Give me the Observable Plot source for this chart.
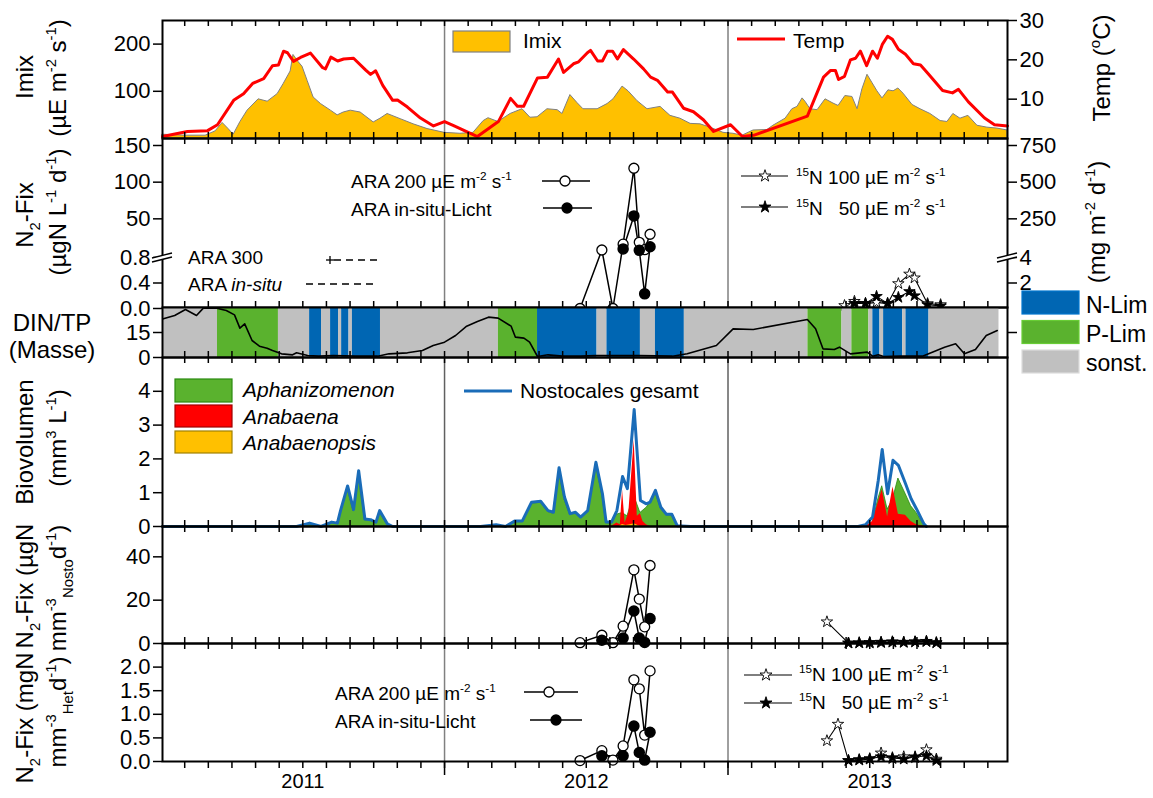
<!DOCTYPE html>
<html><head><meta charset="utf-8">
<script src="https://cdn.jsdelivr.net/npm/d3@7"></script>
<script src="https://cdn.jsdelivr.net/npm/@observablehq/plot@0.6"></script>
<style>
body{margin:0;background:#fff;}
#wrap{position:relative;width:1153px;height:798px;overflow:hidden;}
#wrap svg{position:absolute;left:0;top:0;}
</style></head><body><div id="wrap"></div>
<script>
// ---------------- DATA ----------------
const yearLabels = ["2011", "2012", "2013"];
const yearMid = [2011.5, 2012.5, 2013.5];
const yearDividers = [2012, 2013];

// Panel 1: Imix (µE m-2 s-1) and water temperature (°C)
const imixDates = [2011.005,2011.086,2011.157,2011.192,2011.217,2011.238,2011.256,2011.280,2011.305,2011.344,2011.376,2011.411,2011.432,2011.457,2011.467,2011.485,2011.499,2011.517,2011.538,2011.564,2011.599,2011.623,2011.644,2011.669,2011.704,2011.750,2011.774,2011.799,2011.845,2011.891,2011.940,2012.000,
2012.056,2012.102,2012.138,2012.155,2012.190,2012.233,2012.275,2012.303,2012.328,2012.363,2012.399,2012.416,2012.444,2012.469,2012.490,2012.540,2012.575,2012.596,2012.628,2012.649,2012.681,2012.716,2012.762,2012.797,2012.832,2012.868,2012.903,2012.938,2012.984,
2013.019,2013.051,2013.090,2013.139,2013.160,2013.203,2013.227,2013.245,2013.263,2013.273,2013.291,2013.316,2013.344,2013.372,2013.390,2013.414,2013.439,2013.457,2013.474,2013.492,2013.510,2013.527,2013.545,2013.566,2013.584,2013.601,2013.619,2013.651,2013.679,2013.714,2013.750,2013.774,2013.795,2013.820,2013.848,2013.880,2013.915,2013.950,2013.986];
const imixValues = [8,6,6,15,33,20,8,35,59,83,78,94,115,142,177,162,152,122,87,73,59,49,55,59,55,34,42,52,41,30,20,12,
10,12,37,43,35,52,62,44,45,62,60,52,92,75,62,62,73,83,110,100,79,62,67,48,42,31,30,23,12,
10,6,17,18,27,42,62,67,85,78,62,60,83,74,69,90,88,62,104,135,117,100,85,102,100,106,95,71,62,52,37,35,52,42,48,27,23,21,17];
const tempDates = [2011.005,2011.093,2011.164,2011.199,2011.256,2011.291,2011.323,2011.362,2011.393,2011.414,2011.432,2011.446,2011.467,2011.492,2011.527,2011.570,2011.580,2011.599,2011.623,2011.644,2011.679,2011.722,2011.739,2011.757,2011.782,2011.817,2011.834,2011.869,2011.915,2011.961,
2012.000,2012.032,2012.116,2012.190,2012.233,2012.257,2012.279,2012.328,2012.363,2012.402,2012.420,2012.455,2012.473,2012.504,2012.515,2012.540,2012.557,2012.575,2012.593,2012.610,2012.631,2012.667,2012.702,2012.727,2012.751,2012.787,2012.804,2012.843,2012.878,2012.914,2012.949,
2013.009,2013.051,2013.090,2013.280,2013.337,2013.362,2013.379,2013.390,2013.411,2013.432,2013.450,2013.467,2013.489,2013.510,2013.527,2013.545,2013.563,2013.580,2013.601,2013.626,2013.654,2013.679,2013.707,2013.757,2013.792,2013.813,2013.848,2013.905,2013.940,2013.986];
const tempValues = [0.5,1.8,2,3.5,9.7,11.4,14,15.2,18.5,18.7,22.2,21.8,19.6,20.6,21.7,18,17.7,20.7,19.7,20.2,20.4,17.4,16.3,17.2,13.5,9.7,9.8,8,5.2,3.2,
4.3,3.3,0.5,4.3,10.2,8.2,8.2,15.4,15.6,20.2,16.8,19,19.5,21.8,22.4,19.7,19.7,22.2,22.2,20.2,22.6,20.2,17.7,15.6,14.8,11.8,11.8,7.7,6.8,4.7,1.8,
3.5,0.5,0.8,5.7,15.6,17.3,17.3,15,15.8,20,20.4,22.2,18.5,22.2,20.4,24,26,25.2,22.7,21.4,19,18.7,16.4,12.2,11.6,12.5,9.3,5.2,3.5,3.2];
const imixTicks = [100, 200];
const tempTicks = [10, 20, 30];

// ARA sampling dates 2012
const araDates = [2012.478, 2012.555, 2012.594, 2012.630, 2012.668, 2012.687, 2012.706, 2012.725];
const araInsituDatesL = [2012.630, 2012.668, 2012.687, 2012.706, 2012.725];
const araInsituDates = [2012.555, 2012.630, 2012.668, 2012.687, 2012.706, 2012.725];
// Panel 2: N2-Fix (µgN L-1 d-1), 15N in mg m-2 d-1
const fixL_ara200 = [0, 7.5, 0, 15.5, 119, 18, 8, 29];
const fixL_araInsitu = [9, 54, 7, 0.23, 12];
const n15Dates100 = [2013.411, 2013.446, 2013.485, 2013.524, 2013.563, 2013.601, 2013.640, 2013.658, 2013.704, 2013.750];
const fixA_n15_100 = [0.23, 0.56, 0.38, 0.48, 0.38, 1.95, 2.7, 2.4, 0.38, 0.3];
const n15Dates50 = [2013.446, 2013.485, 2013.524, 2013.563, 2013.601, 2013.640, 2013.658, 2013.704, 2013.750];
const fixA_n15_50 = [0.4, 0.4, 0.95, 0.4, 0.87, 1.33, 1.0, 0.3, 0.2];
const fixLTicks = [0, 0.4, 0.8, 50, 100, 150];
const fixATicks = [0.4, 0.8, 50, 100, 150];   // right axis = left x 5 -> 2, 4, 250, 500, 750

// Panel 3: DIN/TP (mass) and limitation periods
const dinDates = [2011.008,2011.048,2011.086,2011.125,2011.149,2011.197,2011.230,2011.259,2011.278,2011.295,2011.321,2011.347,2011.374,2011.393,2011.425,2011.464,2011.478,2011.517,2011.556,2011.608,2011.686,2011.764,2011.804,2011.869,2011.922,2011.960,
2012.000,2012.039,2012.078,2012.116,2012.155,2012.189,2012.235,2012.250,2012.280,2012.300,2012.328,2012.365,2012.416,2012.480,2012.532,2012.687,2012.804,2012.856,2012.959,
2013.018,2013.089,2013.280,2013.309,2013.335,2013.375,2013.393,2013.432,2013.491,2013.510,2013.530,2013.549,2013.608,2013.686,2013.764,2013.803,2013.834,2013.873,2013.911,2013.950];
const dinValues = [23.2,25.2,28.8,25.2,29.6,29.6,28.2,25.6,17.6,20.2,10.2,6.8,5.6,4.2,2.2,1.6,2.8,1.2,0.8,1.2,0.8,0.8,2.2,2.8,4.2,7.2,
9.2,13.2,18.8,21.6,24.2,23.6,18.8,12.2,11.6,9.2,0.6,1.6,0.8,0.8,1.2,1.2,0.8,2.2,7.2,
17.2,16.8,22.8,17.2,5.2,4.8,6.2,2.2,3.2,0.8,1.6,0.6,0.8,0.8,6.2,8.2,2.2,4.8,13.2,16.2];
const limStart = [2011.008,2011.199,2011.414,2011.524,2011.566,2011.598,2011.626,2011.637,2011.663,2011.675,2011.774,2012.190,2012.328,2012.538,2012.573,2012.691,2012.744,2012.846,2013.282,2013.402,2013.437,2013.497,2013.511,2013.536,2013.549,2013.616,2013.628,2013.709];
const limEnd   = [2011.199,2011.414,2011.524,2011.566,2011.598,2011.626,2011.637,2011.663,2011.675,2011.774,2012.190,2012.328,2012.538,2012.573,2012.691,2012.744,2012.846,2013.282,2013.402,2013.437,2013.497,2013.511,2013.536,2013.549,2013.616,2013.628,2013.709,2013.956];
const limType  = ["sonst.","P-Lim","sonst.","N-Lim","sonst.","N-Lim","sonst.","N-Lim","sonst.","N-Lim","sonst.","P-Lim","N-Lim","sonst.","N-Lim","sonst.","N-Lim","sonst.","P-Lim","sonst.","P-Lim","sonst.","N-Lim","sonst.","N-Lim","sonst.","N-Lim","sonst."];
const limCategories = ["N-Lim", "P-Lim", "sonst."];
const dinTicks = [0, 15];

// Panel 4: Biovolumen (mm3 L-1)
const bioDates = [2011.005,2011.478,2011.524,2011.564,2011.602,2011.622,2011.633,2011.658,2011.679,2011.697,2011.719,2011.739,2011.758,2011.771,2011.798,2011.817,
2012.127,2012.182,2012.215,2012.247,2012.274,2012.287,2012.307,2012.339,2012.365,2012.384,2012.404,2012.423,2012.443,2012.462,2012.480,2012.505,2012.534,2012.557,2012.570,2012.589,2012.608,2012.628,2012.645,2012.669,2012.691,2012.712,2012.725,2012.744,2012.763,2012.783,2012.802,2012.821,2012.868,
2013.459,2013.485,2013.510,2013.530,2013.544,2013.563,2013.582,2013.601,2013.626,2013.646,2013.665,2013.691,2013.700];
const bioNostocales = [0,0,0.1,0,0.13,0.1,0.47,1.2,0.5,1.65,0.22,0.2,0.13,0.47,0.08,0,
0,0.05,0,0.16,0.16,0.38,0.72,0.75,0.47,0.42,1.74,0.87,0.38,0.42,0.28,0.47,1.9,0.97,0.13,0.13,0.47,1.48,1.12,3.46,0.77,0.67,0.72,1.07,0.57,0.36,0.36,0.02,0,
0,0.05,0.28,1.36,2.28,0.97,1.96,1.81,1.27,0.82,0.52,0.08,0];
const bioAphanizomenon = [0,0,0.05,0,0.1,0.08,0.42,1.12,0.45,1.58,0.18,0.17,0.1,0.42,0.05,0,
0,0.03,0,0.13,0.13,0.35,0.68,0.7,0.43,0.38,1.65,0.8,0.34,0.38,0.25,0.42,1.85,0.9,0.1,0.08,0.35,0.4,0.3,0.9,0.4,0.55,0.68,1.02,0.53,0.33,0.33,0,0,
0,0,0.1,0.8,1.19,0.5,0.8,1.42,0.97,0.6,0.4,0.05,0];
const anabaenaDates = [2012.589,2012.608,2012.620,2012.628,2012.637,2012.650,2012.669,2012.680,2012.691,2012.700,2012.712,2012.725,
2013.485,2013.510,2013.530,2013.544,2013.563,2013.582,2013.601,2013.626,2013.646,2013.665,2013.691];
const bioAnabaena = [0,0.1,0.05,1.07,0.1,0.4,2.55,0.3,0.38,0.15,0.05,0,
0,0.15,0.7,1.09,0.28,1.17,0.36,0.33,0.15,0.05,0];
const anabaenopsisDates = [2012.615,2012.628,2012.640,2012.655,2012.669,2012.690];
const bioAnabaenopsis = [0,0.06,0.03,0.05,0.08,0];
const bioTicks = [0, 1, 2, 3, 4];

// Panel 5: N2-Fix per Nostocales biovolume (µgN mm-3 d-1)
const fixN_ara200 = [0.4, 3.8, 0.4, 8, 34, 20.5, 7.7, 36];
const fixN_araInsitu = [1.5, 2.5, 15, 2.5, 0.5, 11.5];
const n15NDates100 = [2013.349, 2013.425, 2013.463, 2013.500, 2013.540, 2013.580, 2013.620, 2013.660, 2013.700, 2013.735];
const fixN_n15_100 = [10, 0.2, 0.3, 0.2, 0.4, 0.6, 0.5, 0.8, 1.0, 0.3];
const n15NDates50 = [2013.425, 2013.463, 2013.500, 2013.540, 2013.580, 2013.620, 2013.660, 2013.700, 2013.735];
const fixN_n15_50 = [0.2, 0.3, 0.5, 0.6, 0.8, 0.6, 0.7, 0.9, 0.4];
const fixNTicks = [0, 20, 40];

// Panel 6: N2-Fix per heterocyst volume (mgN mm-3 d-1)
const fixH_ara200 = [0.02, 0.23, 0.03, 0.33, 1.73, 1.54, 0.56, 1.92];
const fixH_araInsitu = [0.12, 0.12, 0.75, 0.19, 0.03, 0.62];
const n15HDates100 = [2013.349, 2013.388, 2013.425, 2013.463, 2013.500, 2013.540, 2013.580, 2013.620, 2013.660, 2013.700, 2013.735];
const fixH_n15_100 = [0.44, 0.79, 0.02, 0.03, 0.05, 0.18, 0.06, 0.1, 0.08, 0.25, 0.05];
const n15HDates50 = [2013.425, 2013.463, 2013.500, 2013.540, 2013.580, 2013.620, 2013.660, 2013.700, 2013.735];
const fixH_n15_50 = [0.02, 0.04, 0.06, 0.1, 0.08, 0.05, 0.1, 0.12, 0.02];
const fixHTicks = [0, 0.5, 1, 1.5, 2];

// ---------------- HELPERS ----------------
const zip = (ts, vs) => ts.map((t, i) => ({t, v: vs[i]}));
const W = 1153, H = 798, ML = 162, MR = 146;
const FONT = "'Liberation Sans', Arial, 'DejaVu Sans', sans-serif";
const XD = [2011.005, 2013.986];
const monthTicks = d3.range(1, 36).map(i => 2011 + i / 12).filter(d => d < XD[1]);
const limColor = {"N-Lim": "#0066b3", "P-Lim": "#5ab22e", "sonst.": "#c0c0c0"};
const wrap = document.getElementById("wrap");

// broken y axis of panel 2: lower segment 0–0.8, upper segment 0–150
const brk = v => v <= 0.8 ? v / 0.8 * 51 : 53 + v * 110 / 150;

function panel(top, bottom, yopts, marks, xaxis = false) {
  const p = Plot.plot({
    width: W, height: H, marginLeft: ML, marginRight: MR, marginTop: top, marginBottom: H - bottom,
    x: xaxis ? {domain: XD} : {domain: XD, axis: null},
    y: yopts,
    style: {background: "transparent", fontFamily: FONT, fontSize: "22px", color: "black", overflow: "visible"},
    marks
  });
  wrap.appendChild(p);
}
function edgeTicks(h, top = true, bottom = true) {
  const m = [];
  if (top) m.push(Plot.tickX(monthTicks, {x: d => d, insetBottom: h - 6, stroke: "black", strokeWidth: 1.5}));
  if (bottom) m.push(Plot.tickX(monthTicks, {x: d => d, insetTop: h - 6, stroke: "black", strokeWidth: 1.5}));
  return m;
}
const dividers = (c = "#808080") => Plot.ruleX(yearDividers, {x: d => d, stroke: c, strokeWidth: 1.5});
const frame = () => Plot.frame({stroke: "black", strokeWidth: 2});
const leftAxis = (ticks, fmt) => Plot.axisY({anchor: "left", ticks, tickSize: 9, tickPadding: 3, strokeWidth: 1.5, tickFormat: fmt, label: null});
const rightAxis = (ticks, fmt) => Plot.axisY({anchor: "right", ticks, tickSize: 9, tickPadding: 3, strokeWidth: 1.5, tickFormat: fmt, label: null});

function araMarks(d200, dIns, yfn = "v") {
  return [
    Plot.line(d200, {x: "t", y: yfn, stroke: "black", strokeWidth: 1.5}),
    Plot.line(dIns, {x: "t", y: yfn, stroke: "black", strokeWidth: 1.5}),
    Plot.dot(d200, {x: "t", y: yfn, r: 5, fill: "white", stroke: "black", strokeWidth: 1.3}),
    Plot.dot(dIns, {x: "t", y: yfn, r: 5, fill: "black", stroke: "black"})
  ];
}
function starMarks(d100, d50, yfn = "v") {
  return [
    Plot.line(d100, {x: "t", y: yfn, stroke: "black", strokeWidth: 1.1}),
    Plot.line(d50, {x: "t", y: yfn, stroke: "black", strokeWidth: 1.1}),
    Plot.dot(d100, {x: "t", y: yfn, r: 3.6, symbol: "star", fill: "white", stroke: "black", strokeWidth: 0.9}),
    Plot.dot(d50, {x: "t", y: yfn, r: 3.6, symbol: "star", fill: "black", stroke: "black", strokeWidth: 0.9})
  ];
}

// ---------------- PANEL 1 ----------------
const imix = zip(imixDates, imixValues);
const temp = zip(tempDates, tempValues);
panel(20, 138, {domain: [0, 250]}, [
  dividers(),
  Plot.areaY(imix, {x: "t", y: "v", fill: "#ffc000", stroke: "#808080", strokeWidth: 1}),
  Plot.line(temp, {x: "t", y: d => d.v * 250 / 30, stroke: "#ff0000", strokeWidth: 3}),
  ...edgeTicks(118),
  frame(),
  leftAxis(imixTicks, d => String(d)),
  rightAxis(tempTicks.map(t => t * 250 / 30), d => String(Math.round(d * 30 / 250)))
]);

// ---------------- PANEL 2 (broken axis) ----------------
panel(138, 307, {domain: [0, 170], range: [308, 138]}, [
  dividers(),
  ...araMarks(zip(araDates, fixL_ara200), zip(araInsituDatesL, fixL_araInsitu), d => brk(d.v)),
  ...starMarks(zip(n15Dates100, fixA_n15_100), zip(n15Dates50, fixA_n15_50), d => brk(d.v / 5)),
  ...edgeTicks(169),
  frame(),
  leftAxis(fixLTicks.map(brk), d => { const v = fixLTicks[fixLTicks.map(brk).indexOf(d)]; return v < 1 ? v.toFixed(1) : String(v); }),
  rightAxis(fixATicks.map(brk), d => String(Math.round(fixATicks[fixATicks.map(brk).indexOf(d)] * 5)))
]);

// ---------------- PANEL 3 ----------------
const lim = limStart.map((s, i) => ({s, e: limEnd[i], type: limType[i]}));
panel(307, 357, {domain: [0, 30]}, [
  Plot.rect(lim, {x1: "s", x2: "e", fill: d => limColor[d.type]}),
  Plot.line(zip(dinDates, dinValues), {x: "t", y: "v", stroke: "black", strokeWidth: 1.6}),
  ...edgeTicks(50, false, true),
  frame(),
  leftAxis(dinTicks, d => String(d)),
  rightAxis([15], () => "")
]);

// ---------------- PANEL 4 ----------------
panel(357, 526, {domain: [0, 5]}, [
  dividers("#606060"),
  Plot.areaY(zip(bioDates, bioAphanizomenon), {x: "t", y: "v", fill: "#5ab22e", stroke: "#2a8a10", strokeWidth: 0.8}),
  Plot.areaY(zip(anabaenaDates, bioAnabaena), {x: "t", y: "v", fill: "#ff0000"}),
  Plot.areaY(zip(anabaenopsisDates, bioAnabaenopsis), {x: "t", y: "v", fill: "#ffc000"}),
  Plot.line(zip(bioDates, bioNostocales), {x: "t", y: "v", stroke: "#1a6cb8", strokeWidth: 3}),
  ...edgeTicks(169),
  frame(),
  leftAxis(bioTicks, d => String(d))
]);

// ---------------- PANEL 5 ----------------
panel(526, 643, {domain: [0, 54]}, [
  dividers(),
  ...araMarks(zip(araDates, fixN_ara200), zip(araInsituDates, fixN_araInsitu)),
  ...starMarks(zip(n15NDates100, fixN_n15_100), zip(n15NDates50, fixN_n15_50)),
  ...edgeTicks(117),
  frame(),
  leftAxis(fixNTicks, d => String(d))
]);

// ---------------- PANEL 6 ----------------
panel(643, 761, {domain: [0, 2.5]}, [
  dividers(),
  ...araMarks(zip(araDates, fixH_ara200), zip(araInsituDates, fixH_araInsitu)),
  ...starMarks(zip(n15HDates100, fixH_n15_100), zip(n15HDates50, fixH_n15_50)),
  ...edgeTicks(118, true, false),
  frame(),
  leftAxis(fixHTicks, d => d.toFixed(1)),
  Plot.axisX({anchor: "bottom", ticks: monthTicks, tickSize: 7, strokeWidth: 1.5, tickFormat: () => "", label: null}),
  Plot.axisX({anchor: "bottom", ticks: yearDividers, tickSize: 14, strokeWidth: 1.5, tickFormat: () => "", label: null}),
  Plot.text(yearLabels, {x: (d, i) => yearMid[i], text: d => d, frameAnchor: "bottom", dy: 26, fontSize: 20})
], true);

// ---------------- TEXT OVERLAY (titles, legends) ----------------
const svgO = d3.create("svg").attr("width", W).attr("height", H).attr("font-family", FONT);
wrap.appendChild(svgO.node());
function rich(sel, str, fs) {
  const parts = str.split(/(\^\{[^}]*\}|_\{[^}]*\}|~\{[^}]*\})/).filter(s => s);
  let shift = 0;
  for (const p of parts) {
    let t = p, target = 0, size = fs, it = false;
    if (p.startsWith("^{")) { t = p.slice(2, -1); target = -0.42 * fs; size = 0.62 * fs; }
    else if (p.startsWith("_{")) { t = p.slice(2, -1); target = 0.3 * fs; size = 0.62 * fs; }
    else if (p.startsWith("~{")) { t = p.slice(2, -1); it = true; }
    const ts = sel.append("tspan").attr("dy", target - shift).attr("font-size", size).text(t);
    if (it) ts.attr("font-style", "italic");
    shift = target;
  }
}
function T(x, y, str, o = {}) {
  const fs = o.fs || 21;
  const t = svgO.append("text").attr("font-size", fs).attr("text-anchor", o.anchor || "start")
    .attr("fill", "black").style("white-space", "pre");
  if (o.rot) t.attr("transform", `translate(${x},${y}) rotate(${o.rot})`); else t.attr("x", x).attr("y", y);
  if (o.italic) t.attr("font-style", "italic");
  rich(t, str, fs);
}
const line = (x1, y1, x2, y2, c = "black", w = 1.5, dash = null) => {
  const l = svgO.append("line").attr("x1", x1).attr("y1", y1).attr("x2", x2).attr("y2", y2).attr("stroke", c).attr("stroke-width", w);
  if (dash) l.attr("stroke-dasharray", dash);
};
const circ = (cx, cy, fill) => svgO.append("circle").attr("cx", cx).attr("cy", cy).attr("r", 5).attr("fill", fill).attr("stroke", "black").attr("stroke-width", 1.3);
const star = (cx, cy, fill) => svgO.append("path").attr("d", d3.symbol(d3.symbolStar, 45)()).attr("transform", `translate(${cx},${cy})`).attr("fill", fill).attr("stroke", "black").attr("stroke-width", 0.9);
const swatch = (x, y, w, h, fill, stroke) => svgO.append("rect").attr("x", x).attr("y", y).attr("width", w).attr("height", h).attr("fill", fill).attr("stroke", stroke).attr("stroke-width", 1.2);

// axis titles (left)
const TF = 24;
T(33, 77, "Imix", {rot: -90, anchor: "middle", fs: TF});
T(66, 78, "(µE m^{-2} s^{-1})", {rot: -90, anchor: "middle", fs: TF});
T(33, 215, "N_{2}-Fix", {rot: -90, anchor: "middle", fs: TF});
T(66, 212, "(µgN L^{-1} d^{-1})", {rot: -90, anchor: "middle", fs: TF});
T(52, 331, "DIN/TP", {anchor: "middle", fs: TF});
T(52, 358, "(Masse)", {anchor: "middle", fs: TF});
T(33, 442, "Biovolumen", {rot: -90, anchor: "middle", fs: TF});
T(66, 438, "(mm^{3} L^{-1})", {rot: -90, anchor: "middle", fs: TF});
T(33, 586, "N_{2}-Fix (µgN", {rot: -90, anchor: "middle", fs: TF});
T(66, 588, "mm^{-3}_{Nosto}d^{-1})", {rot: -90, anchor: "middle", fs: TF});
T(33, 718, "N_{2}-Fix (mgN", {rot: -90, anchor: "middle", fs: TF});
T(66, 712, "mm^{-3}_{Het}d^{-1})", {rot: -90, anchor: "middle", fs: TF});
// axis titles (right)
T(1110, 68, "Temp (^{o}C)", {rot: -90, anchor: "middle", fs: TF});
T(1105, 222, "(mg m^{-2} d^{-1})", {rot: -90, anchor: "middle", fs: TF});

// axis break marks (panel 2)
for (const bx of [162, 1007]) {
  svgO.append("path").attr("d", `M${bx-10},${258} L${bx+10},${253} L${bx+10},${257} L${bx-10},${262} Z`).attr("fill", "white");
  line(bx - 10, 258, bx + 10, 253, "black", 1.3);
  line(bx - 10, 262, bx + 10, 257, "black", 1.3);
}

// legend panel 1
swatch(453, 31, 57, 21, "#ffc000", "#808080");
T(523, 48, "Imix");
line(737, 39, 785, 39, "#ff0000", 3);
T(793, 48, "Temp");

// legend panel 2
T(351, 188, "ARA 200 µE m^{-2} s^{-1}", {fs: 19});
line(542, 181, 590, 181); circ(565, 181, "white");
T(351, 216, "ARA in-situ-Licht", {fs: 19});
line(543, 208, 592, 208); circ(567, 208, "black");
T(188, 264, "ARA 300", {fs: 19});
line(334, 260, 378, 260, "black", 1.3, "7,5");
line(326, 260, 334, 260, "black", 1.3); line(330, 256, 330, 264, "black", 1.3);
T(188, 291, "ARA ~{in-situ}", {fs: 19});
line(306, 284, 378, 284, "black", 1.3, "7,5");
line(741, 176, 788, 176, "black", 1.2); star(765, 176, "white");
T(796, 184, "^{15}N 100 µE m^{-2} s^{-1}", {fs: 19});
line(741, 207, 788, 207, "black", 1.2); star(765, 207, "black");
T(796, 215, "^{15}N   50 µE m^{-2} s^{-1}", {fs: 19});

// legend panel 3
limCategories.forEach((c, i) => {
  swatch(1022, 291 + i * 29.5, 57, 23, limColor[c], d3.color(limColor[c]).brighter(0.4));
  T(1086, 313 + i * 29, c, {fs: 23});
});

// legend panel 4
swatch(175, 379, 57, 23, "#5ab22e", "#2a8a10");
swatch(175, 405, 57, 22, "#ff0000", "#a00000");
swatch(175, 431, 57, 22, "#ffc000", "#a08000");
T(243, 397, "Aphanizomenon", {italic: true});
T(243, 424, "Anabaena", {italic: true});
T(243, 450, "Anabaenopsis", {italic: true});
line(464, 391, 512, 391, "#1a6cb8", 3);
T(520, 398, "Nostocales gesamt");

// legend panel 6
T(335, 700, "ARA 200 µE m^{-2} s^{-1}", {fs: 19});
line(524, 692, 578, 692); circ(549, 692, "white");
T(335, 728, "ARA in-situ-Licht", {fs: 19});
line(530, 720, 582, 720); circ(556, 720, "black");
line(744, 675, 792, 675, "black", 1.2); star(766, 675, "white");
T(799, 681, "^{15}N 100 µE m^{-2} s^{-1}", {fs: 19});
line(744, 703, 792, 703, "black", 1.2); star(766, 703, "black");
T(799, 709, "^{15}N   50 µE m^{-2} s^{-1}", {fs: 19});
</script></body></html>
